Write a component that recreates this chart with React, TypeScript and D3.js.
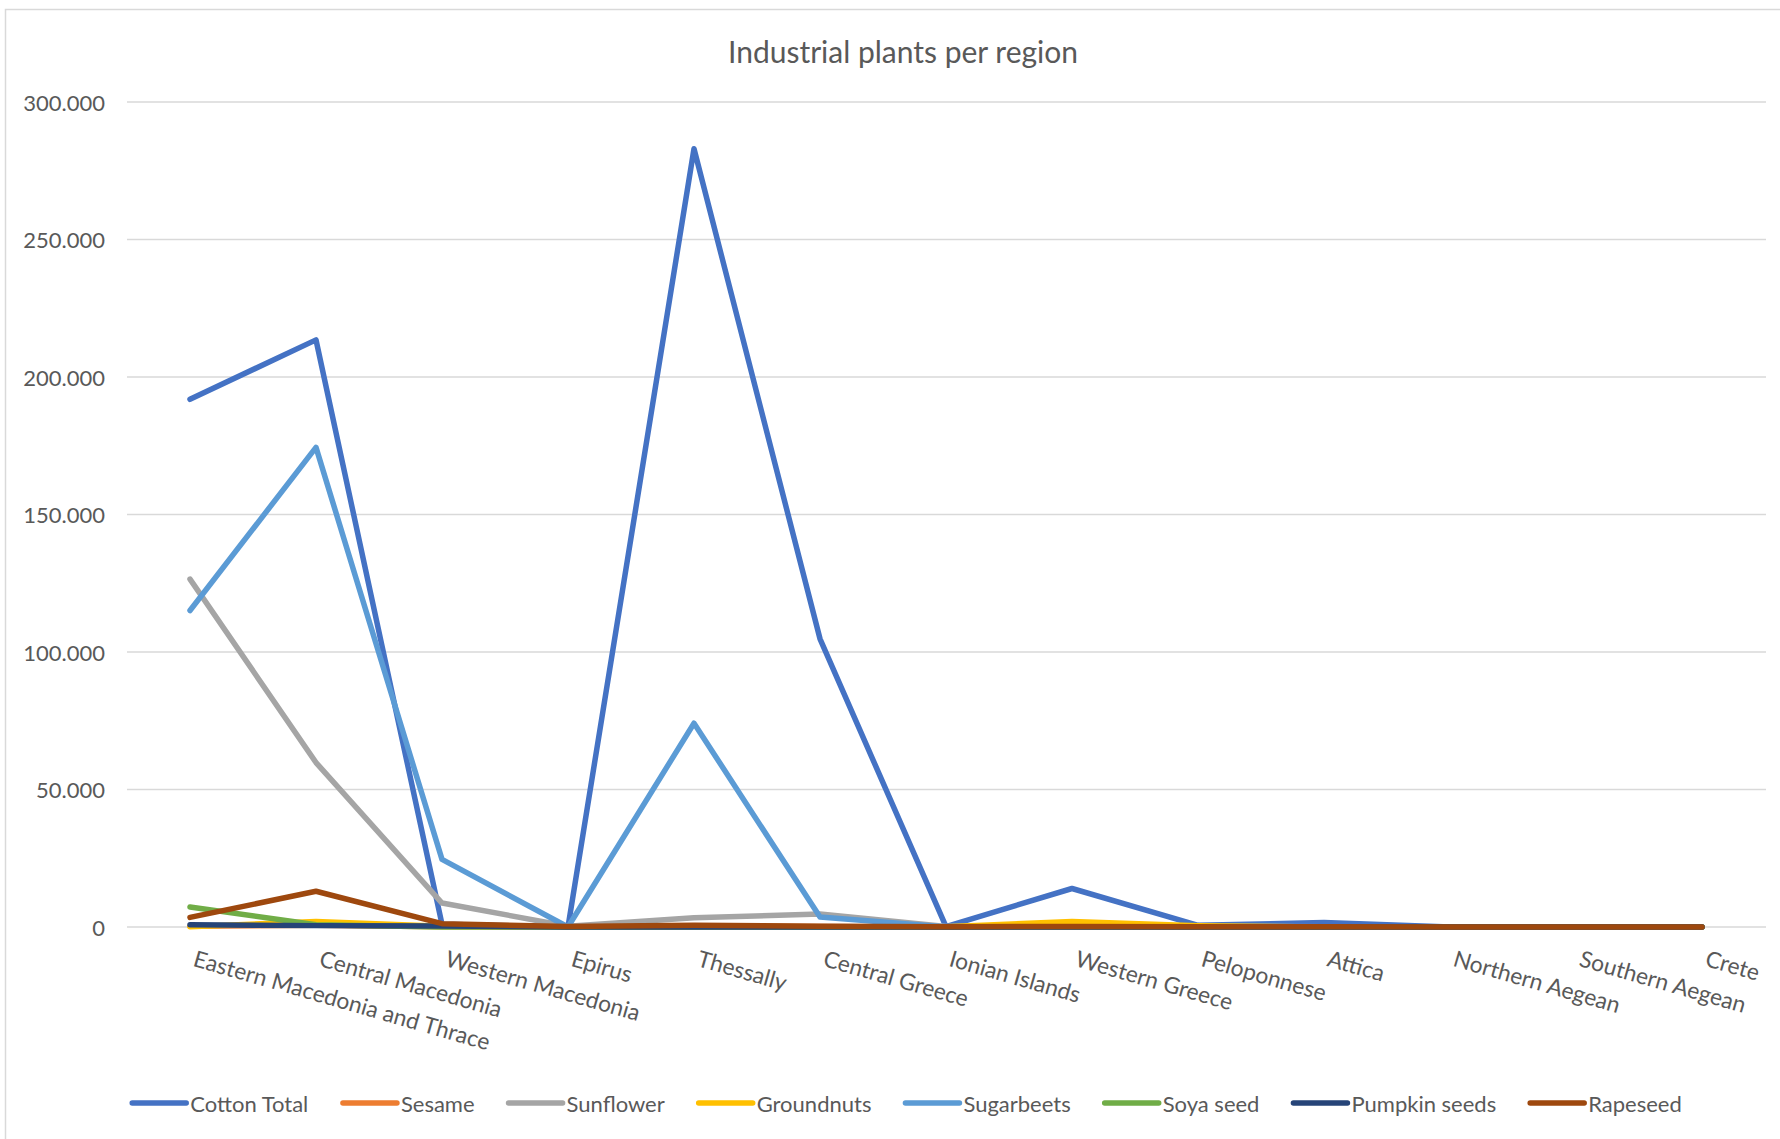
import React, { useEffect } from "react";
import * as d3 from "d3";

const categories = [
  "Eastern Macedonia and Thrace",
  "Central Macedonia",
  "Western Macedonia",
  "Epirus",
  "Thessally",
  "Central Greece",
  "Ionian Islands",
  "Western Greece",
  "Peloponnese",
  "Attica",
  "Northern Aegean",
  "Southern Aegean",
  "Crete",
];

const cottonTotal = [191900, 213500, 1000, 0, 283000, 104800, 100, 14000, 600, 1600, 0, 0, 0];
const sesame = [300, 600, 50, 0, 400, 200, 0, 300, 100, 0, 0, 0, 0];
const sunflower = [126500, 59800, 8700, 300, 3400, 4700, 200, 400, 200, 100, 0, 0, 0];
const groundnuts = [100, 2000, 300, 0, 0, 0, 100, 2000, 500, 0, 0, 0, 0];
const sugarbeets = [115100, 174400, 24600, 0, 74100, 3600, 0, 0, 0, 0, 0, 0, 0];
const soyaSeed = [7300, 800, 0, 0, 0, 0, 0, 0, 0, 0, 0, 0, 0];
const pumpkinSeeds = [800, 500, 400, 0, 0, 0, 0, 0, 0, 0, 0, 0, 0];
const rapeseed = [3500, 13000, 1200, 200, 600, 300, 100, 200, 100, 100, 0, 0, 0];

const seriesNames = [
  "Cotton Total",
  "Sesame",
  "Sunflower",
  "Groundnuts",
  "Sugarbeets",
  "Soya seed",
  "Pumpkin seeds",
  "Rapeseed",
];
const seriesValues = [cottonTotal, sesame, sunflower, groundnuts, sugarbeets, soyaSeed, pumpkinSeeds, rapeseed];
const seriesColors = ["#4472C4", "#ED7D31", "#A5A5A5", "#FFC000", "#5B9BD5", "#70AD47", "#264478", "#9E480E"];

const yTicks = [0, 50000, 100000, 150000, 200000, 250000, 300000];

const titleText = "Industrial plants per region";

const W = 1780;
const H = 1139;
const PLOT = { left: 127, right: 1765, top: 102, bottom: 927 };
const FONT = "Lato, 'Open Sans', sans-serif";
const TEXT_COLOR = "#595959";
const AXIS_FS = 22;
const LEGEND_FS = 22;
const LABEL_FS = 22.8;
const TITLE_FS = 30;

function measure(text: string, size: number): number {
  const c = document.createElement("canvas");
  const ctx = c.getContext("2d");
  if (!ctx) return text.length * size * 0.5;
  ctx.font = `${size}px Lato`;
  return ctx.measureText(text).width;
}

export default function App() {
  useEffect(() => {
    document.body.style.margin = "0";
    document.body.style.overflow = "hidden";
  }, []);

  const x = d3.scaleBand<string>().domain(categories).range([PLOT.left, PLOT.right]);
  const y = d3.scaleLinear().domain([0, 300000]).range([PLOT.bottom, PLOT.top]);
  const cx = (i: number) => (x(categories[i]) as number) + x.bandwidth() / 2;
  const line = d3
    .line<number>()
    .x((_, i) => cx(i))
    .y((d) => y(d));

  const fmt = (v: number) => (v === 0 ? "0" : d3.format(",")(v).replace(/,/g, "."));

  // legend layout
  const lineLen = 54;
  const lineGap = 4;
  const itemGap = 34;
  const widths = seriesNames.map((n) => lineLen + lineGap + measure(n, LEGEND_FS));
  const total = widths.reduce((a, b) => a + b, 0) + itemGap * (widths.length - 1);
  const legendCenter = 907;
  const legendY = 1103;
  let acc = legendCenter - total / 2;
  const legendX = widths.map((w) => {
    const s = acc;
    acc += w + itemGap;
    return s;
  });

  return (
    <div style={{ position: "absolute", left: 0, top: 0, width: W, height: H }}>
      <svg width={W} height={H} style={{ display: "block", fontFamily: FONT }}>
        <rect x={0} y={0} width={W} height={H} fill="#ffffff" />
        <rect x={5.5} y={9.5} width={W + 40} height={H + 40} fill="#ffffff" stroke="#d9d9d9" strokeWidth={1.5} />
        <text
          x={903}
          y={51}
          textAnchor="middle"
          dominantBaseline="central"
          fontSize={TITLE_FS}
          fill={TEXT_COLOR}
        >
          {titleText}
        </text>

        {yTicks.map((t) => (
          <g key={t}>
            <line x1={PLOT.left} x2={PLOT.right + 1} y1={y(t)} y2={y(t)} stroke="#d9d9d9" strokeWidth={1.5} />
            <text
              x={105}
              y={y(t)}
              textAnchor="end"
              dominantBaseline="central"
              fontSize={AXIS_FS}
              fill={TEXT_COLOR}
            >
              {fmt(t)}
            </text>
          </g>
        ))}

        {categories.map((c, i) => (
          <text
            key={c}
            transform={`translate(${cx(i) + 7},${948}) rotate(16)`}
            textAnchor="start"
            dominantBaseline="hanging"
            fontSize={LABEL_FS}
            fill={TEXT_COLOR}
          >
            {c}
          </text>
        ))}

        {seriesValues.map((vals, si) => (
          <path
            key={seriesNames[si]}
            d={line(vals) || ""}
            fill="none"
            stroke={seriesColors[si]}
            strokeWidth={5.5}
            strokeLinejoin="round"
            strokeLinecap="round"
          />
        ))}

        {seriesNames.map((n, i) => (
          <g key={n}>
            <line
              x1={legendX[i]}
              x2={legendX[i] + lineLen}
              y1={legendY}
              y2={legendY}
              stroke={seriesColors[i]}
              strokeWidth={5.5}
              strokeLinecap="round"
            />
            <text
              x={legendX[i] + lineLen + lineGap}
              y={legendY}
              dominantBaseline="central"
              fontSize={LEGEND_FS}
              fill={TEXT_COLOR}
            >
              {n}
            </text>
          </g>
        ))}
      </svg>
    </div>
  );
}
